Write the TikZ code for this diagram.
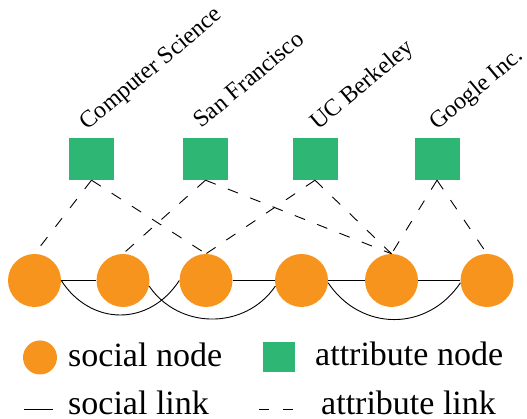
\documentclass[tikz,border=0pt]{standalone}
\usepackage{fontspec}
\setmainfont{Liberation Serif}
\newfontfamily\timesfont{Liberation Serif}
\usetikzlibrary{positioning}
\definecolor{socialorange}{HTML}{F7941E}
\definecolor{attrgreen}{HTML}{2DB674}

\begin{document}
\begin{tikzpicture}[x=1pt,y=1pt,
        social/.style = {circle,fill=socialorange,minimum size=53pt,inner sep=0pt},
        attr/.style = {rectangle,fill=attrgreen,minimum width=45pt,minimum height=42pt,inner sep=0pt},
        sociallink/.style = {line width=0.9pt},
        attrlink/.style = {line width=0.9pt,dash pattern=on 11pt off 13pt},
        attrlabel/.style = {rotate=40,anchor=base west,inner sep=0pt,font=\timesfont\fontsize{24}{28}\selectfont},
        legendtext/.style = {anchor=base west,inner sep=0pt,font=\timesfont\fontsize{34}{40}\selectfont}]

        \useasboundingbox (0,0) rectangle (527,419);

        % social nodes
        \path   (34.5,138.5) node (s1) [social] {}
                (123,138.5)  node (s2) [social] {}
                (206,138.5)  node (s3) [social] {}
                (301.5,138.5) node (s4) [social] {}
                (391.5,138.5) node (s5) [social] {}
                (487,138.5)  node (s6) [social] {};

        % attribute nodes
        \path   (91.5,260)  node (a1) [attr] {}
                (205.5,260) node (a2) [attr] {}
                (315,260)   node (a3) [attr] {}
                (437,260)   node (a4) [attr] {};

        \node (cs) [attrlabel] at ([xshift=-4pt,yshift=7pt]a1.north) {Computer Science};
        \node (sf) [attrlabel] at ([xshift=-4pt,yshift=9pt]a2.north) {San Francisco};
        \node (ucb) [attrlabel] at ([xshift=3pt,yshift=7pt]a3.north) {UC Berkeley};
        \node (goog) [attrlabel] at ([xshift=0pt,yshift=7pt]a4.north) {Google Inc.};

        % social links
        \draw[sociallink] (s1) -- (s2);
        \draw[sociallink] (s3) -- (s4);
        \draw[sociallink] (s4) -- (s5);
        \draw[sociallink] (s5) -- (s6);
        \draw[sociallink] (s1.east) .. controls +(30,-46) and +(-30,-46) .. (s3.west);
        \draw[sociallink] (s2.-12) .. controls +(30,-44) and +(-30,-44) .. (s4.192);
        \draw[sociallink] (s4.-5) .. controls +(33,-49) and +(-33,-49) .. (s6.185);

        % attribute links
        \draw[attrlink] (a1.south) -- (s1.north);
        \draw[attrlink] (a1.south) -- (s3.north);
        \draw[attrlink] (a2.south) -- (s2.north);
        \draw[attrlink] (a2.south) -- (s5.north);
        \draw[attrlink] (a3.south) -- (s3.north);
        \draw[attrlink] (a3.south) -- (s5.north);
        \draw[attrlink] (a4.south) -- (s5.north);
        \draw[attrlink] (a4.south) -- (s6.north);

        % legend
        \node (lsocial) [social,minimum size=34pt] at (40,61.5) {};
        \node (lsocialtext) [legendtext] at (68,52) {social node};
        \node (lattr) [attr,minimum width=32pt,minimum height=30pt] at (279,62) {};
        \node (lattrtext) [legendtext] at (315,53) {attribute node};

        \coordinate (lsl1) at (24,10);
        \coordinate (lsl2) at (53,10);
        \draw[sociallink] (lsl1) -- (lsl2);
        \node (lsltext) [legendtext] at (68,4) {social link};

        \coordinate (lal1) at (259,10);
        \coordinate (lal2) at (293,10);
        \draw[attrlink,dash pattern=on 10pt off 14pt] (lal1) -- (lal2);
        \node (laltext) [legendtext] at (321,4) {attribute link};

\end{tikzpicture}
\end{document}
